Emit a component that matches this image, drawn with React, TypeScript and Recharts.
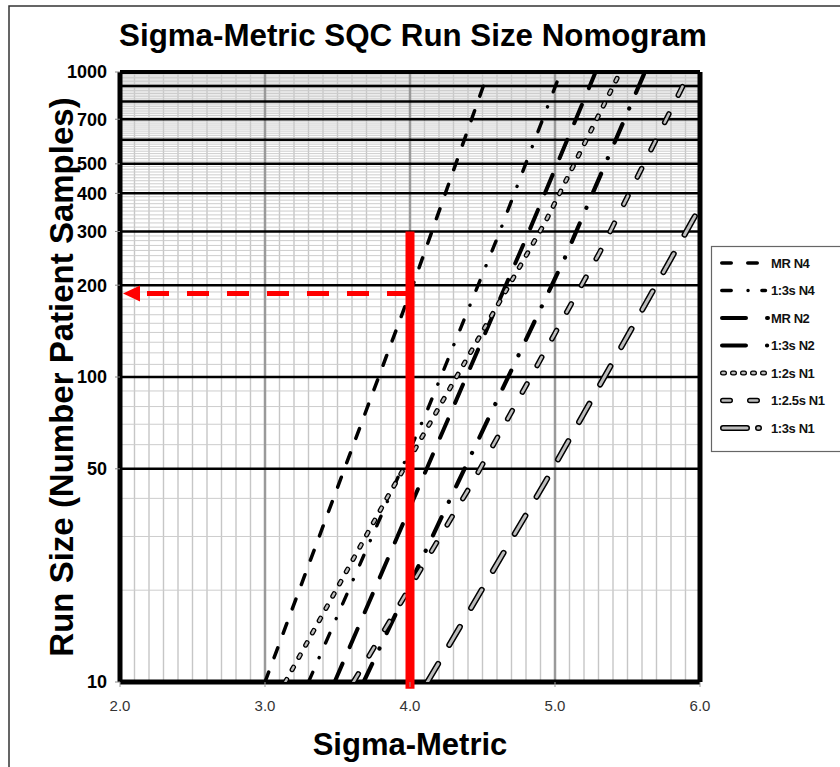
import React from 'react';
import { LineChart, Line, XAxis, YAxis, CartesianGrid, ReferenceLine, Label } from 'recharts';

// ---- data ----
const sigmaTicks = [2, 3, 4, 5, 6];
const runSizeTicks = [10, 50, 100, 200, 300, 400, 500, 700, 1000];

const mrN4 = [
  { sigma: 3.0, run: 10 },
  { sigma: 4.02, run: 200 },
  { sigma: 4.54, run: 1000 },
];
const r13sN4 = [
  { sigma: 3.3, run: 10 },
  { sigma: 4.12, run: 78 },
  { sigma: 4.61, run: 292 },
  { sigma: 5.04, run: 1000 },
];
const mrN2 = [
  { sigma: 3.48, run: 10 },
  { sigma: 4.06, run: 43.5 },
  { sigma: 4.81, run: 292 },
  { sigma: 5.28, run: 1000 },
];
const r13sN2 = [
  { sigma: 3.68, run: 10 },
  { sigma: 4.33, run: 45 },
  { sigma: 5.07, run: 247 },
  { sigma: 5.62, run: 1000 },
];
const r12sN1 = [
  { sigma: 3.14, run: 10 },
  { sigma: 3.84, run: 40 },
  { sigma: 4.93, run: 320 },
  { sigma: 5.45, run: 1000 },
];
const r125sN1 = [
  { sigma: 3.61, run: 10 },
  { sigma: 4.43, run: 45 },
  { sigma: 5.31, run: 257 },
  { sigma: 5.93, run: 1000 },
];
const r13sN1 = [
  { sigma: 4.12, run: 10 },
  { sigma: 4.93, run: 45 },
  { sigma: 5.95, run: 327 },
  { sigma: 6.0, run: 360 },
];

const seriesNames = ['MR N4', '1:3s N4', 'MR N2', '1:3s N2', '1:2s N1', '1:2.5s N1', '1:3s N1'];
const seriesData = [mrN4, r13sN4, mrN2, r13sN2, r12sN1, r125sN1, r13sN1];

// selected operating point
const selectedSigma = 4.0;
const selectedRunTop = 300;
const selectedRunBottom = 9.5;
const readRunSize = 188;

// ---- styles ----
type Style = {
  outline: boolean;
  width: number;
  inner?: number;
  dash: string;
  legendDash: string;
  lx1: number;
  lx2: number;
};
const seriesStyles: Style[] = [
  { outline: false, width: 3.5, dash: '10.5 15.5', legendDash: '9.5 16.5', lx1: 721.75, lx2: 759 },
  { outline: false, width: 3.4, dash: '10.5 16 0.1 16', legendDash: '9.5 16.75 0.1 13.75', lx1: 721.75, lx2: 765.5 },
  { outline: false, width: 4, dash: '20 18', legendDash: '24 21', lx1: 722, lx2: 768 },
  { outline: false, width: 4.2, dash: '20 17 0.1 17', legendDash: '23.8 21.1 0.1 30', lx1: 722.1, lx2: 767.2 },
  { outline: true, width: 5, inner: 2.4, dash: '3 11', legendDash: '2 8', lx1: 722.5, lx2: 765 },
  { outline: true, width: 5.5, inner: 2.6, dash: '9.5 21', legendDash: '7.5 19.5', lx1: 722.75, lx2: 757.25 },
  { outline: true, width: 6, inner: 3, dash: '21 22', legendDash: '24 11', lx1: 723, lx2: 759 },
];

const FONT = "'Liberation Sans', Arial, Helvetica, sans-serif";

// grid values
const minorSigma: number[] = [];
for (let i = 21; i < 60; i++) if (i % 10 !== 0) minorSigma.push(i / 10);
const majorSigma = [3, 4, 5];
const minorRun: number[] = [];
for (let v = 20; v < 100; v += 10) if (v !== 50) minorRun.push(v);
for (let v = 110; v < 1000; v += 10) if (v % 100 !== 0) minorRun.push(v);
const majorRun = [50, 100, 200, 300, 400, 500, 600, 700, 800, 900];

const ArrowShape = (p: any) => {
  const { x1, y1, x2 } = p;
  const left = Math.min(x1, x2);
  const right = Math.max(x1, x2);
  return (
    <g>
      <line x1={left + 27} y1={y1} x2={right} y2={y1} stroke="#ff0000" strokeWidth={5} strokeDasharray="22 18" />
      <polygon points={`${left + 3},${y1} ${left + 20},${y1 - 8} ${left + 20},${y1 + 8}`} fill="#ff0000" />
    </g>
  );
};

const YLabel = (props: any) => {
  const vb = props.viewBox || { x: 0, y: 72, width: 120, height: 610 };
  const cx = vb.x + 72.5;
  const cy = vb.y + vb.height / 2;
  return (
    <text
      x={cx}
      y={cy}
      transform={`rotate(-90 ${cx} ${cy})`}
      textAnchor="middle"
      fontFamily={FONT}
      fontWeight={700}
      fontSize={33}
      fill="#000"
    >
      Run Size (Number Patient Samples)
    </text>
  );
};

export default function App() {
  const lines: React.ReactNode[] = [];
  seriesData.forEach((d, i) => {
    const s = seriesStyles[i];
    lines.push(
      <Line
        key={`o${i}`}
        data={d}
        dataKey="run"
        name={seriesNames[i]}
        type="linear"
        stroke="#000"
        strokeWidth={s.width}
        strokeDasharray={s.dash}
        strokeLinecap="round"
        dot={false}
        activeDot={false}
        isAnimationActive={false}
      />
    );
    if (s.outline) {
      lines.push(
        <Line
          key={`i${i}`}
          data={d}
          dataKey="run"
          name={seriesNames[i] + ' '}
          type="linear"
          stroke="#bdbdbd"
          strokeWidth={s.inner}
          strokeDasharray={s.dash}
          strokeLinecap="round"
          dot={false}
          activeDot={false}
          isAnimationActive={false}
        />
      );
    }
  });

  return (
    <div style={{ position: 'absolute', left: 0, top: 0, width: 840, height: 767, overflow: 'hidden', background: '#fff' }}>
      <div style={{ position: 'absolute', left: 0, top: 0 }}>
        <LineChart width={840} height={767} margin={{ top: 72, right: 140, bottom: 0, left: 0 }}>
          <CartesianGrid vertical horizontal={false} verticalValues={minorSigma} stroke="#c6c6c6" strokeWidth={1.4} />
          <CartesianGrid vertical={false} horizontal horizontalValues={minorRun} stroke="#cdcdcd" strokeWidth={1} />
          <CartesianGrid vertical horizontal={false} verticalValues={majorSigma} stroke="#9a9a9a" strokeWidth={2.5} />
          <CartesianGrid vertical={false} horizontal horizontalValues={majorRun} stroke="#000" strokeWidth={2.5} />
          <XAxis
            dataKey="sigma"
            type="number"
            domain={[2, 6]}
            ticks={sigmaTicks}
            interval={0}
            allowDataOverflow
            tickFormatter={(v: number) => v.toFixed(1)}
            tick={{ fontSize: 15, fill: '#333', fontFamily: FONT }}
            tickLine={{ stroke: '#999' }}
            tickSize={5}
            tickMargin={13}
            axisLine={false}
            height={85}
          >
            <Label value="Sigma-Metric" position="insideBottom" offset={12} fontSize={31} fontWeight={700} fontFamily={FONT} fill="#000" />
          </XAxis>
          <YAxis
            type="number"
            scale="log"
            domain={[10, 1000]}
            ticks={runSizeTicks}
            interval={0}
            allowDataOverflow
            width={120}
            tick={{ fontSize: 18, fontWeight: 700, fill: '#000', fontFamily: FONT }}
            tickLine={{ stroke: '#888' }}
            tickSize={5}
            tickMargin={8}
            axisLine={false}
          >
            <Label content={<YLabel />} />
          </YAxis>
          <ReferenceLine x={2} stroke="#000" strokeWidth={5} />
          <ReferenceLine x={6} stroke="#000" strokeWidth={5} />
          <ReferenceLine y={10} stroke="#000" strokeWidth={5} />
          <ReferenceLine y={1000} stroke="#000" strokeWidth={4} />
          {lines}
          <ReferenceLine
            segment={[{ x: selectedSigma, y: selectedRunTop }, { x: selectedSigma, y: selectedRunBottom }]}
            stroke="#ff0000"
            strokeWidth={9}
            ifOverflow="visible"
          />
          <ReferenceLine
            segment={[{ x: 2, y: readRunSize }, { x: selectedSigma, y: readRunSize }]}
            shape={ArrowShape}
            ifOverflow="visible"
          />
        </LineChart>
      </div>
      <svg width={840} height={767} style={{ position: 'absolute', left: 0, top: 0, pointerEvents: 'none' }}>
        <rect x={9} y={6} width={1000} height={1000} fill="none" stroke="#333" strokeWidth={1.5} />
        <text x={413} y={46} textAnchor="middle" fontFamily={FONT} fontWeight={700} fontSize={31.3} fill="#000">
          Sigma-Metric SQC Run Size Nomogram
        </text>
        <g>
          <rect x={711.5} y={246.5} width={200} height={205} fill="#fff" stroke="#666" strokeWidth={1.2} />
          {seriesNames.map((name, i) => {
            const s = seriesStyles[i];
            const cy = 263 + i * 27.5;
            return (
              <g key={name}>
                <line x1={s.lx1} y1={cy} x2={s.lx2} y2={cy} stroke="#000" strokeWidth={s.width} strokeDasharray={s.legendDash} strokeLinecap="round" />
                {s.outline && (
                  <line x1={s.lx1} y1={cy} x2={s.lx2} y2={cy} stroke="#bdbdbd" strokeWidth={s.inner || 2} strokeDasharray={s.legendDash} strokeLinecap="round" />
                )}
                <text x={771} y={cy + 4.5} fontFamily={FONT} fontWeight={700} fontSize={13} letterSpacing={-0.4} fill="#111">
                  {name}
                </text>
              </g>
            );
          })}
        </g>
      </svg>
    </div>
  );
}
